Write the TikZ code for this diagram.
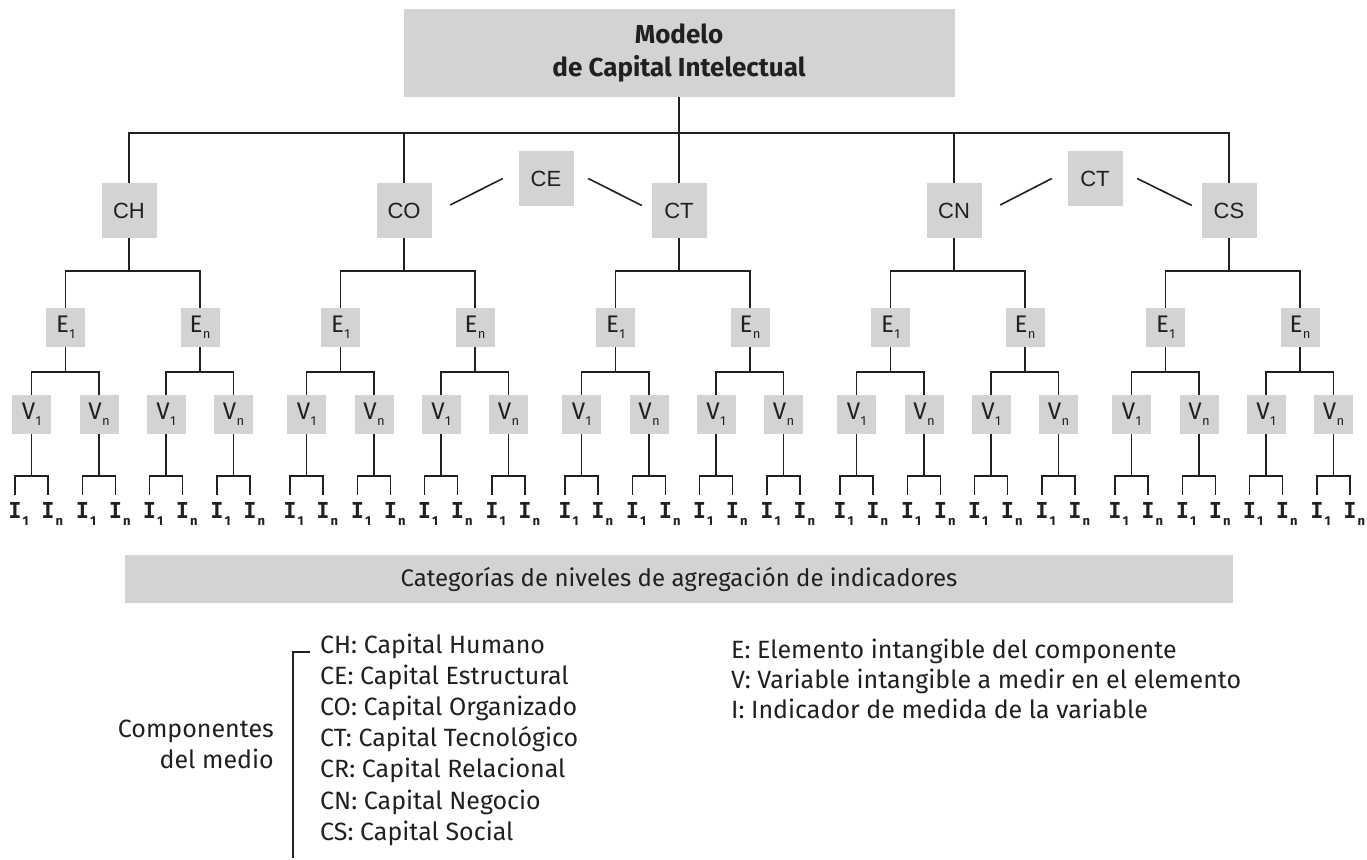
\documentclass[tikz,border=0pt]{standalone}
\usepackage{fontspec}
\setmainfont{Fira Sans}
\newfontfamily\arialf{Liberation Sans}
\newfontfamily\monof{DejaVu Sans Mono}
\usetikzlibrary{calc}
\definecolor{boxgray}{HTML}{D1D3D4}
\definecolor{ink}{HTML}{231F20}
\newcommand{\subx}[1]{\kern0.5pt\raisebox{-6pt}{\fontsize{13}{13}\selectfont #1}}
\newcommand{\subi}[1]{\rlap{\kern1pt\raisebox{-7pt}{\fontspec{Fira Sans}\fontsize{13}{13}\selectfont #1}}}
\tikzset{
  conn/.style={draw=ink, line width=1.6pt},
  cbox/.style={fill=boxgray, minimum width=55pt, minimum height=55pt, inner sep=0pt,
    font=\arialf\fontsize{22}{22}\selectfont, text=ink},
  ebox/.style={fill=boxgray, minimum width=39pt, minimum height=39pt, inner sep=0pt,
    font=\fontsize{24}{24}\selectfont, text=ink},
  ilab/.style={inner sep=0pt, anchor=north, font=\monof\bfseries\fontsize{22}{22}\selectfont, text=ink},
  legend/.style={inner sep=0pt, anchor=base west, font=\fontsize{25}{25}\selectfont, text=ink},
  legendr/.style={inner sep=0pt, anchor=base east, font=\fontsize{25}{25}\selectfont, text=ink},
}
\begin{document}
\begin{tikzpicture}[x=1pt, y=-1pt]
\useasboundingbox (0,0) rectangle (1367,859);

% title
\node[fill=boxgray, minimum width=551pt, minimum height=88pt, inner sep=0pt, align=center,
  font=\bfseries\fontsize{26}{33}\selectfont, text=ink] (top) at (679,53)
  {Modelo\\de Capital Intelectual};
\coordinate (topj) at (679,133);
\draw[conn] (top.south) -- (topj);

% level 1
\foreach \k/\lab in {0/CH,1/CO,2/CT,3/CN,4/CS} {
  \pgfmathsetmacro\T{129+275*\k}
  \node[cbox] (L\k) at (\T,210.5) {\lab};
  \draw[conn] (L\k.north) |- (topj);
  \coordinate (J\k) at (\T,271);
  \draw[conn] (L\k.south) -- (J\k);
  \foreach \e/\eoff/\es in {1/-63.5/1,2/71/n} {
    \pgfmathsetmacro\Ex{\T+\eoff}
    \node[ebox] (E-\k-\e) at (\Ex,327.5) {E\subx{\es}};
    \draw[conn] (E-\k-\e.north) |- (J\k);
    \coordinate (JE-\k-\e) at (\Ex,372);
    \draw[conn] (E-\k-\e.south) -- (JE-\k-\e);
    \foreach \v/\voff/\vs in {1/-34/1,2/33.5/n} {
      \pgfmathsetmacro\Vx{\Ex+\voff}
      \node[ebox] (V-\k-\e-\v) at (\Vx,414.5) {V\subx{\vs}};
      \draw[conn] (V-\k-\e-\v.north) |- (JE-\k-\e);
      \coordinate (JV-\k-\e-\v) at (\Vx,476);
      \draw[conn] (V-\k-\e-\v.south) -- (JV-\k-\e-\v);
      \foreach \i/\ioff/\is in {1/-16.5/1,2/16.5/n} {
        \pgfmathsetmacro\Ix{\Vx+\ioff}
        \node[ilab] (I-\k-\e-\v-\i) at (\Ix,502) {I\subi{\is}};
        \draw[conn] ([yshift=7pt]I-\k-\e-\v-\i.north) |- (JV-\k-\e-\v);
      }
    }
  }
}

% side component boxes
\node[cbox] (CE) at (546,178.5) {CE};
\node[cbox] (CT2) at (1095,178.5) {CT};
\draw[conn] ($(L1.east)+(18.5,-5.5)$) -- ($(CE.west)+(-15.5,0)$);
\draw[conn] ($(CE.east)+(14.5,0)$) -- ($(L2.west)+(-9.5,-5)$);
\draw[conn] ($(L3.east)+(18.5,-5.5)$) -- ($(CT2.west)+(-15.5,0)$);
\draw[conn] ($(CT2.east)+(14.5,0)$) -- ($(L4.west)+(-9.5,-5)$);

% category bar
\node[fill=boxgray, minimum width=1108pt, minimum height=48pt, inner sep=0pt,
  font=\fontsize{24}{24}\selectfont, text=ink] (cat) at (679,579)
  {Categorías de niveles de agregación de indicadores};

% legend left
\node[legendr] (comp1) at (274,737) {Componentes};
\node[legendr] (comp2) at (274,768) {del medio};
\draw[conn] (310,652) -- (293,652) -- (293,858);
\foreach \n/\t in {0/{CH: Capital Humano},1/{CE: Capital Estructural},2/{CO: Capital Organizado},
  3/{CT: Capital Tecnológico},4/{CR: Capital Relacional},5/{CN: Capital Negocio},6/{CS: Capital Social}} {
  \node[legend] (lg\n) at (320,653+31.2*\n) {\t};
}

% legend right
\node[legend] (rE) at (731,658) {E: Elemento intangible del componente};
\node[legend] (rV) at (731,688) {V: Variable intangible a medir en el elemento};
\node[legend] (rI) at (731,718) {I: Indicador de medida de la variable};
\end{tikzpicture}
\end{document}
